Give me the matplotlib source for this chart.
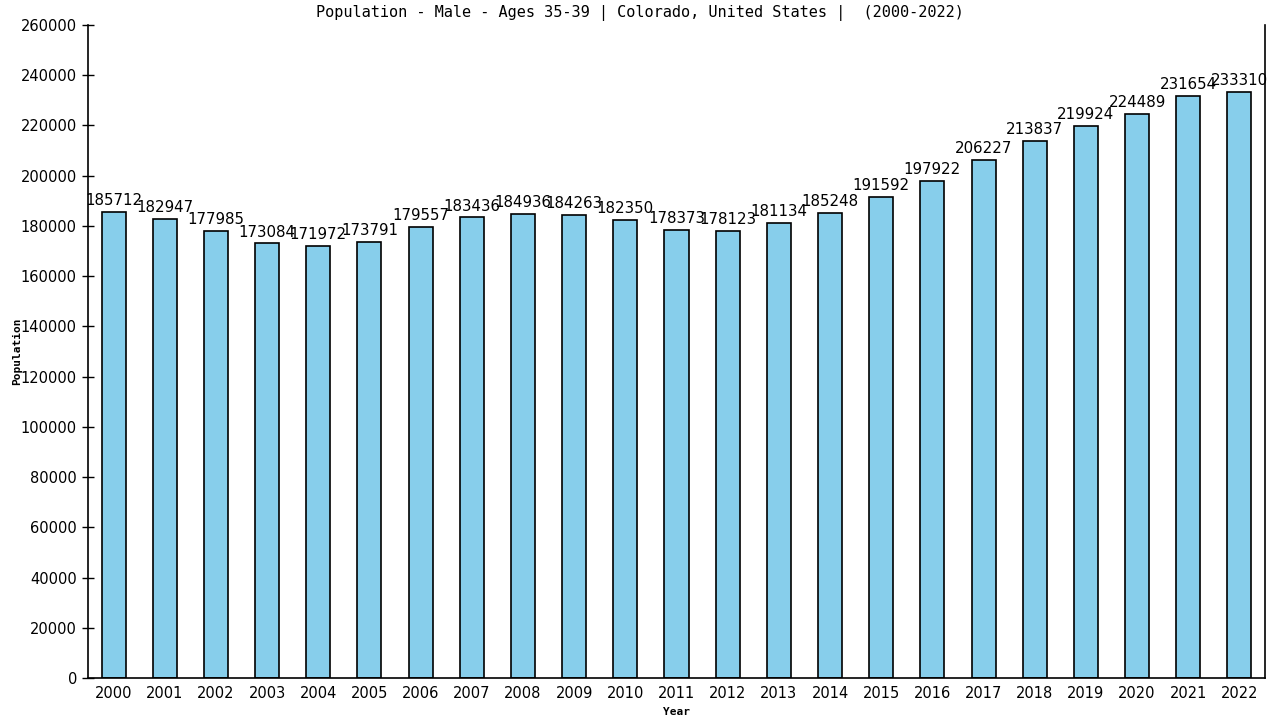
import matplotlib
matplotlib.use("Agg")
import matplotlib.pyplot as plt

years = [str(y) for y in range(2000, 2023)]
values = [185712, 182947, 177985, 173084, 171972, 173791, 179557, 183436, 184936,
          184263, 182350, 178373, 178123, 181134, 185248, 191592, 197922, 206227,
          213837, 219924, 224489, 231654, 233310]
yticks = list(range(0, 260001, 20000))

fig = plt.figure(figsize=(12.8, 7.2), dpi=100)
ax = fig.add_axes([88/1280, 1 - 678/720, (1265-88)/1280, (678-25)/720])

x = list(range(len(years)))
ax.bar(x, values, width=0.47, color="#87CEEB", edgecolor="black", linewidth=1.2, zorder=2)
for xi, v in zip(x, values):
    ax.text(xi, v + 1500, str(v), ha="center", va="bottom", fontsize=10.8,
            family="DejaVu Sans", color="black")

ax.set_xlim(-0.5, len(years) - 0.5)
ax.set_ylim(0, 260000)
ax.set_xticks(x)
ax.set_xticklabels(years, fontsize=10.5, family="DejaVu Sans")
ax.set_yticks(yticks)
ax.set_yticklabels([str(t) for t in yticks], fontsize=10.5, family="DejaVu Sans")
ax.tick_params(axis="x", length=0, pad=6)
ax.tick_params(axis="y", direction="inout", length=8, width=1, pad=4)

ax.spines["top"].set_visible(False)
for s in ["left", "right", "bottom"]:
    ax.spines[s].set_linewidth(1.2)

ax.set_xlabel("Year", fontsize=8, family="DejaVu Sans Mono", fontweight="bold", labelpad=4)
ax.set_ylabel("Population", fontsize=8, family="DejaVu Sans Mono", fontweight="bold", labelpad=0)
ax.yaxis.set_label_coords(-66/1177, 0.5)
fig.text(640/1280, 1 - 13/720, "Population - Male - Ages 35-39 | Colorado, United States |  (2000-2022)",
         ha="center", va="center", fontsize=11, family="DejaVu Sans Mono")

fig.savefig("out.png", dpi=100)
